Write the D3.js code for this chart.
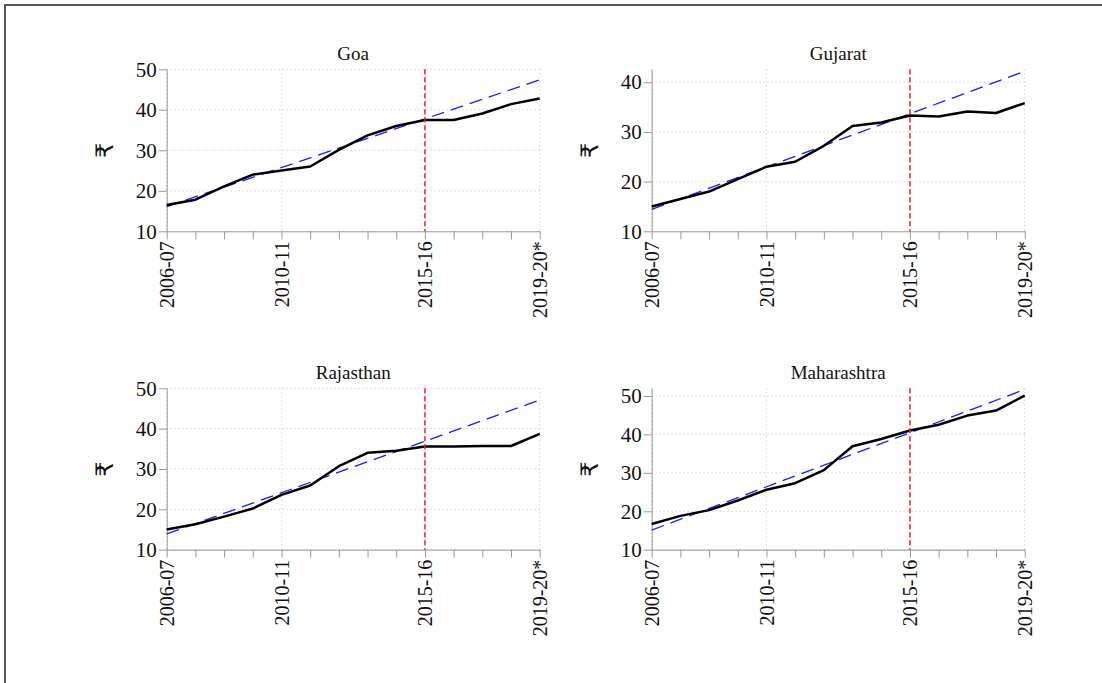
<!DOCTYPE html>
<html><head><meta charset="utf-8">
<script src="https://cdn.jsdelivr.net/npm/d3@7"></script>
<style>body{margin:0;background:#fff}</style></head>
<body><svg id="c" width="1102" height="683"></svg>
<script>
const years = ["2006-07","2007-08","2008-09","2009-10","2010-11","2011-12","2012-13","2013-14","2014-15","2015-16","2016-17","2017-18","2018-19","2019-20*"];
const labeledYears = ["2006-07","2010-11","2015-16","2019-20*"];
const markerYear = "2015-16";
const states = ["Goa","Gujarat","Rajasthan","Maharashtra"];
const goa         = [16.5,17.8,21.1,24.0,25.0,26.0,30.1,33.7,36.0,37.5,37.5,39.1,41.4,42.8];
const gujarat     = [15.0,16.5,18.0,20.5,23.0,24.0,27.2,31.2,31.9,33.3,33.1,34.1,33.8,35.8];
const rajasthan   = [15.0,16.3,18.2,20.2,23.6,25.9,30.7,34.0,34.5,35.6,35.6,35.7,35.7,38.7];
const maharashtra = [16.7,18.8,20.3,22.8,25.6,27.3,30.7,36.9,38.8,41.0,42.5,44.9,46.2,50.1];
const trendStart = [16.1,14.4,13.9,15.1];
const trendEnd   = [47.4,42.2,47.1,51.7];
const yMin = [10,10,10,10];
const yMax = [50,42.6,50,52];
const yTicks = [[10,20,30,40,50],[10,20,30,40],[10,20,30,40,50],[10,20,30,40,50]];
const seriesList = [goa, gujarat, rajasthan, maharashtra];

const svg = d3.select("#c");
svg.append("rect").attr("width",1102).attr("height",683).attr("fill","#fff");
svg.append("rect").attr("x",5).attr("y",5).attr("width",1300).attr("height",900)
  .attr("fill","none").attr("stroke","#555").attr("stroke-width",2);

const panels = [
  {x0:166.7, x1:539.7, y0:69.3, y1:231.3},
  {x0:651.7, x1:1024.7, y0:69.3, y1:231.3},
  {x0:166.7, x1:539.7, y0:388.3, y1:549.7},
  {x0:651.7, x1:1024.7, y0:388.3, y1:549.7}
];
const FONT = "'Liberation Serif', 'Times New Roman', serif";

states.forEach((name, k) => {
  const p = panels[k];
  const vals = seriesList[k];
  const x = d3.scalePoint().domain(years).range([p.x0, p.x1]);
  const y = d3.scaleLinear().domain([yMin[k], yMax[k]]).range([p.y1, p.y0]);
  const g = svg.append("g");

  g.selectAll(".hg").data(yTicks[k]).join("line")
    .attr("x1",p.x0).attr("x2",p.x1).attr("y1",d=>y(d)).attr("y2",d=>y(d))
    .attr("stroke","#bdbdbd").attr("stroke-width",1).attr("stroke-dasharray","1,3");
  g.selectAll(".vg").data(labeledYears).join("line")
    .attr("x1",d=>x(d)).attr("x2",d=>x(d)).attr("y1",p.y0).attr("y2",p.y1)
    .attr("stroke","#bdbdbd").attr("stroke-width",1).attr("stroke-dasharray","1,3");

  const ya = g.append("g").attr("transform",`translate(${p.x0},0)`)
    .call(d3.axisLeft(y).tickValues(yTicks[k]).tickSize(8).tickSizeOuter(0).tickPadding(2).tickFormat(d3.format("d")));
  ya.attr("font-family", null).attr("font-size", null);
  ya.select(".domain").attr("stroke","#999");
  ya.selectAll(".tick line").attr("stroke","#999");
  ya.selectAll("text").style("font-family",FONT).style("font-size","21px").attr("fill","#111");

  const xa = g.append("g").attr("transform",`translate(0,${p.y1})`)
    .call(d3.axisBottom(x).tickSize(8).tickSizeOuter(0)
      .tickFormat(d => labeledYears.includes(d) ? d : ""));
  xa.attr("font-family", null).attr("font-size", null);
  xa.select(".domain").attr("stroke","#999");
  xa.selectAll(".tick line").attr("stroke","#999");
  xa.selectAll("text").style("font-family",FONT).style("font-size","20px").attr("fill","#111")
    .attr("transform","rotate(-90)").attr("text-anchor","end")
    .attr("x",-10).attr("y",0).attr("dy","0.35em");

  g.append("line")
    .attr("x1",x(years[0])).attr("y1",y(trendStart[k]))
    .attr("x2",x(years[years.length-1])).attr("y2",y(trendEnd[k]))
    .attr("stroke","#1a1aff").attr("stroke-width",1.3).attr("stroke-dasharray","13,7");

  g.append("path").datum(vals)
    .attr("d", d3.line().x((d,i)=>x(years[i])).y(d=>y(d)))
    .attr("fill","none").attr("stroke","#000").attr("stroke-width",2.5)
    .attr("stroke-linejoin","round");

  g.append("line").attr("x1",x(markerYear)).attr("x2",x(markerYear))
    .attr("y1",p.y0).attr("y2",p.y1)
    .attr("stroke","#ff1a1a").attr("stroke-width",1.5).attr("stroke-dasharray","5,3");

  g.append("text").attr("x",(p.x0+p.x1)/2).attr("y",p.y0-9)
    .attr("text-anchor","middle").style("font-family",FONT).style("font-size","19px")
    .attr("fill","#111").text(name);

  g.append("text").attr("transform",`translate(${p.x0-62},${(p.y0+p.y1)/2}) rotate(-90)`)
    .attr("text-anchor","middle").attr("dy","0.35em")
    .style("font-family","'DejaVu Sans', sans-serif").style("font-size","24px")
    .attr("fill","#111").text("₹");
});
</script></body></html>
